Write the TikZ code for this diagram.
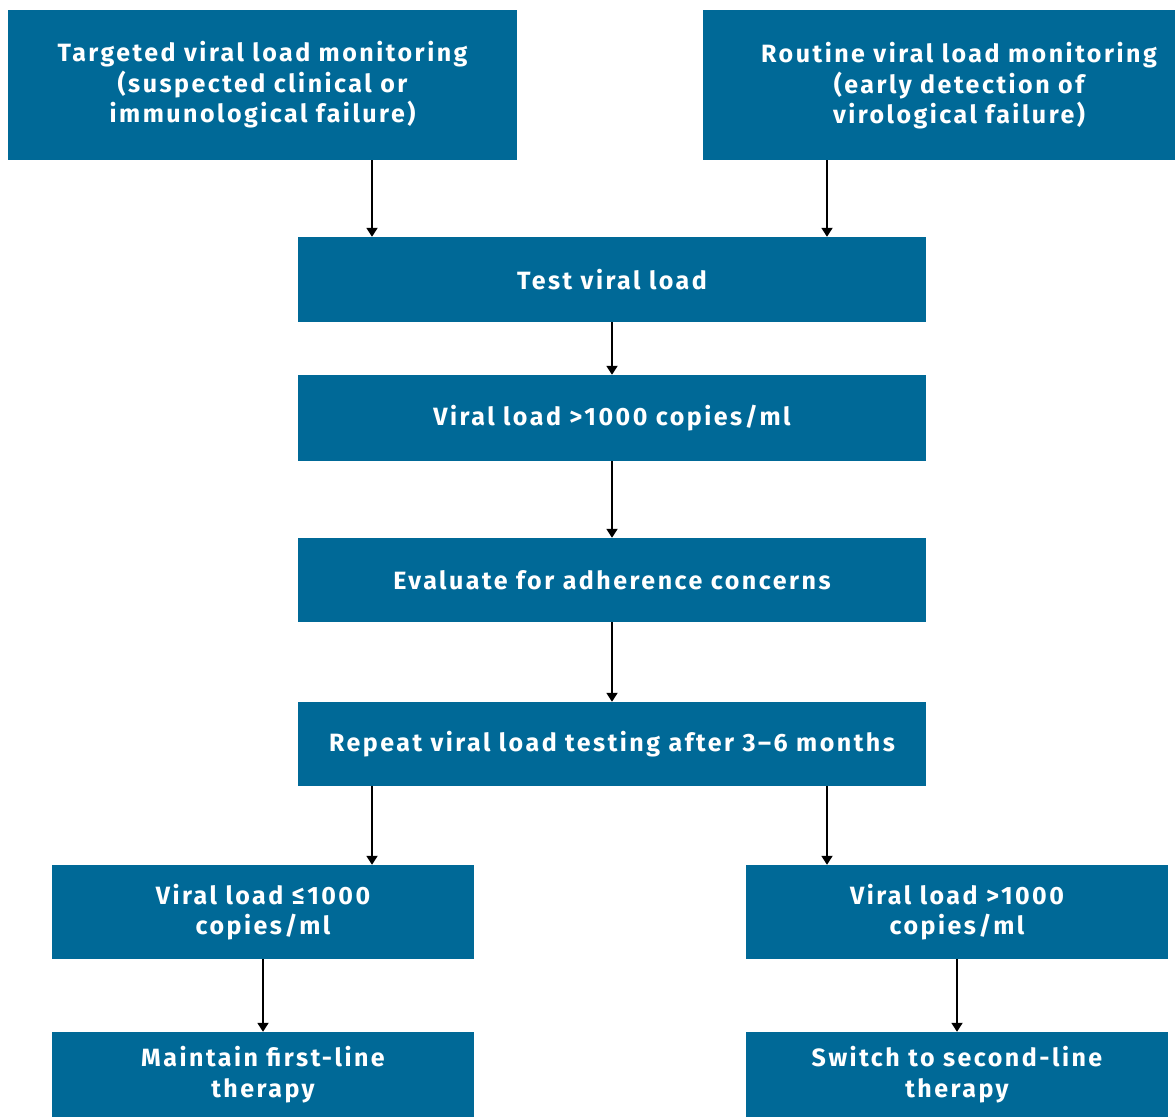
\documentclass[tikz,border=0pt]{standalone}
\usepackage{fontspec}
\setmainfont{Fira Sans}[LetterSpace=10]
\usetikzlibrary{arrows.meta}
\definecolor{boxblue}{RGB}{0,105,151}
\begin{document}
\begin{tikzpicture}[x=1pt,y=-1pt,
  box/.style={fill=boxblue, draw=none, inner sep=0pt, text=white, align=center,
    font=\fontsize{25}{30.5}\selectfont\bfseries},
  arr/.style={draw=black, line width=1.8pt, -{Triangle[length=9pt,width=11pt]}, shorten >=0pt}]
\useasboundingbox (0,0) rectangle (1175,1117);
\node[box, minimum width=509pt, minimum height=150pt] (B1) at (262.5,85)
  {Targeted viral load monitoring\\(suspected clinical or\\immunological failure)};
\node[box, minimum width=472pt, minimum height=150pt] (B2) at (939,85) {};
\node[box, fill=none] (B2t) at (959,86)
  {Routine viral load monitoring\\(early detection of\\virological failure)};
\node[box, minimum width=628pt, minimum height=85pt] (B3) at (612,279.5) {Test viral load};
\node[box, minimum width=628pt, minimum height=86pt] (B4) at (612,418) {Viral load >1000 copies/ml};
\node[box, minimum width=628pt, minimum height=84pt] (B5) at (612,580) {Evaluate for adherence concerns};
\node[box, minimum width=628pt, minimum height=84pt] (B6) at (612,744) {Repeat viral load testing after 3–6 months};
\node[box, minimum width=422pt, minimum height=94pt] (B7) at (263,912) {Viral load ≤1000\\copies/ml};
\node[box, minimum width=422pt, minimum height=94pt] (B8) at (957,912) {Viral load >1000\\copies/ml};
\node[box, minimum width=422pt, minimum height=85pt] (B9) at (263,1074.5) {Maintain first-line\\therapy};
\node[box, minimum width=422pt, minimum height=85pt] (B10) at (957,1074.5) {Switch to second-line\\therapy};
\coordinate (cl) at (372,0);
\coordinate (cr) at (827,0);
\draw[arr] (B1.south -| cl) -- (B3.north -| cl);
\draw[arr] (B2.south -| cr) -- (B3.north -| cr);
\draw[arr] (B3.south -| B4.center) -- (B4.north);
\draw[arr] (B4.south) -- (B5.north);
\draw[arr] (B5.south) -- (B6.north);
\draw[arr] (B6.south -| cl) -- (B7.north -| cl);
\draw[arr] (B6.south -| cr) -- (B8.north -| cr);
\draw[arr] (B7.south) -- (B9.north);
\draw[arr] (B8.south) -- (B10.north);
\end{tikzpicture}
\end{document}
